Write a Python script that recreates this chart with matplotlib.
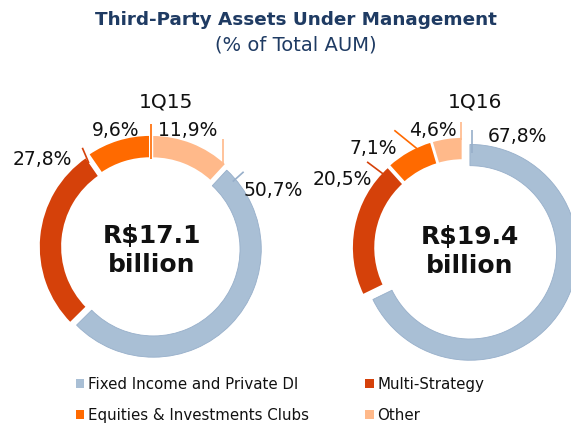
import matplotlib.pyplot as plt
from matplotlib.patches import Patch

# data
categories = ['Fixed Income and Private DI', 'Multi-Strategy',
              'Equities & Investments Clubs', 'Other']
colors = ['#A9BFD5', '#D5410A', '#FF6A00', '#FFB98A']
q115 = [50.7, 27.8, 9.6, 11.9]
q116 = [67.8, 20.5, 7.1, 4.6]
totals = ['R$17.1', 'R$19.4']
periods = ['1Q15', '1Q16']

W, H = 571, 424
R = 109  # pie radius in px
L = 1.45
navy = '#1F3B63'
blue_edge = '#97AFCA'

fig = plt.figure(figsize=(W / 100, H / 100), dpi=100)

fig.text(0.518, 1 - 20 / H, 'Third-Party Assets Under Management', ha='center', va='center',
         fontsize=13.2, fontweight='bold', color=navy)
fig.text(0.518, 1 - 45 / H, '(% of Total AUM)', ha='center', va='center',
         fontsize=14, color=navy)


def fmt(v):
    return f'{v:.1f}'.replace('.', ',') + '%'


# label layout per chart: text position and leader line (data units)
layouts = [
    dict(center=(151, 247), start=90 - 360 * q115[3] / 100, explode=[0.03, 0.03, 0.03, 0.03],
         text=[(1.12, 0.52), (-1.0, 0.80), (-0.32, 1.07), (0.34, 1.07)],
         lines=[((0.75, 0.60), (0.85, 0.69)), ((-0.57, 0.77), (-0.63, 0.91)),
                ((0.0, 0.81), (0.0, 1.13)), ((0.66, 0.76), (0.66, 0.99))],
         period=(0.14, 1.33), tx=0.01),
    dict(center=(463, 248), start=90, explode=[0.075, 0.02, 0.02, 0.02],
         text=[(0.50, 1.02), (-1.11, 0.63), (-0.82, 0.91), (-0.28, 1.08)],
         lines=[((0.082, 0.87), (0.082, 1.08)), ((-0.72, 0.67), (-0.88, 0.79)),
                ((-0.26, 0.78), (-0.63, 1.08)), ((-0.019, 0.99), (-0.019, 1.16))],
         period=(0.11, 1.34), tx=0.065),
]

for vals, total, period, lay in zip([q115, q116], totals, periods, layouts):
    cx, cy = lay['center']
    S = 2 * L * R
    ax = fig.add_axes([(cx - S / 2) / W, (H - cy - S / 2) / H, S / W, S / H])
    wedges, _ = ax.pie(vals, colors=colors, startangle=lay['start'], counterclock=False,
                       radius=1, explode=lay['explode'],
                       wedgeprops=dict(width=0.215, linewidth=1.5, edgecolor='white'))
    # the fixed income slice has a thin darker outline instead of the white one
    wedges[0].set_edgecolor(blue_edge)
    wedges[0].set_linewidth(0.6)
    wedges[0].set_radius(0.99)
    wedges[0].set_width(0.195)
    ax.set_xlim(-L, L)
    ax.set_ylim(-L, L)
    ax.set_aspect('equal')
    ax.axis('off')

    for v, c, (tx, ty), (p1, p2) in zip(vals, colors, lay['text'], lay['lines']):
        ax.plot([p1[0], p2[0]], [p1[1], p2[1]], color=c if c != colors[0] else blue_edge,
                lw=1.2, solid_capstyle='butt', clip_on=False, zorder=3)
        ax.text(tx, ty, fmt(v), ha='center', va='center', fontsize=13.5, color='#111111')

    ax.text(lay['period'][0], lay['period'][1], period, ha='center', va='center',
            fontsize=14.5, color='#111111')
    ax.text(lay['tx'], 0.10, total, ha='center', va='center', fontsize=18,
            fontweight='bold', color='#111111')
    ax.text(lay['tx'], -0.165, 'billion', ha='center', va='center', fontsize=18,
            fontweight='bold', color='#111111')

order = [0, 2, 1, 3]
handles = [Patch(facecolor=colors[i], edgecolor='none') for i in order]
labels = [categories[i] for i in order]
fig.legend(handles, labels, loc='upper left', bbox_to_anchor=(76 / W, 1 - 377 / H),
           ncol=2, frameon=False, fontsize=10.8, borderpad=0, borderaxespad=0,
           handlelength=0.55, handleheight=0.55, handletextpad=0.25,
           labelspacing=1.04, columnspacing=3.75, labelcolor='#111111')

fig.savefig('out.png', dpi=100)
